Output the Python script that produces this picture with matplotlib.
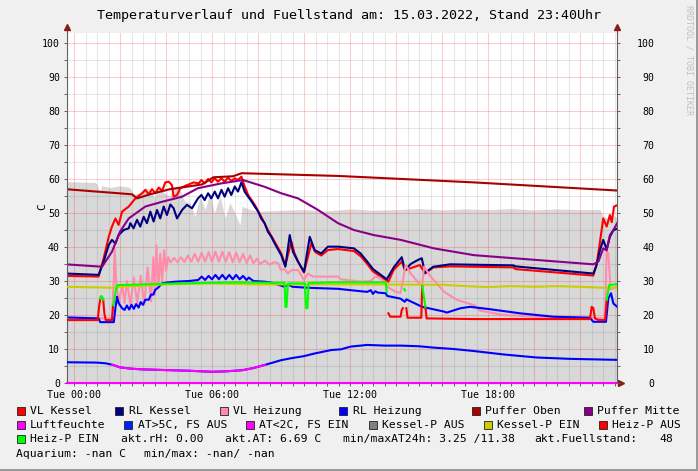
import numpy as np
import matplotlib
matplotlib.use('Agg')
import matplotlib.pyplot as plt
from matplotlib.patches import Rectangle

plt.rcParams['font.family'] = ['DejaVu Sans Mono']

nan = np.nan

# Zeit in Stunden ab Tue 00:00, Werte in Grad C bzw. Fuellstand
t_fuell = [-0.35, 0.91, 1.0, 1.13, 1.2, 1.57, 2.0, 2.43, 2.6, 2.87, 3.1, 3.3, 3.5, 3.74, 3.9, 4.17,
           4.3, 4.6, 4.8, 5.04, 5.26, 5.48, 5.7, 5.91, 6.1, 6.35, 6.57, 6.78, 7.0, 7.22, 7.3, 7.65,
           8.09, 9.0, 10.0, 11.0, 12.0, 13.0, 14.0, 15.0, 16.0, 17.0, 18.0, 19.0, 20.0, 21.0, 22.0,
           22.87, 23.0, 23.2, 23.4, 23.65]
v_fuell = [59.2, 59.0, 58.5, 56.0, 58.0, 57.5, 58.0, 57.5, 55.5, 56.0, 57.5, 57.0, 54.5, 58.0, 56.0, 55.0,
           57.5, 57.0, 53.5, 53.0, 49.0, 55.0, 51.0, 56.0, 50.0, 55.0, 48.5, 53.0, 50.0, 46.5, 52.0, 51.0,
           50.5, 50.8, 51.0, 50.6, 51.2, 50.8, 51.0, 51.3, 50.9, 51.2, 51.0, 51.3, 50.9, 51.2, 51.0,
           51.0, 49.0, 48.5, 49.5, 48.5]

t_vlk = [-0.35, 1.07, 1.29, 1.51, 1.65, 1.80, 1.94, 2.09, 2.38, 2.67, 2.96,
         3.10, 3.25, 3.39, 3.54, 3.68, 3.83, 3.97, 4.12, 4.26, 4.33, 4.48, 4.62, 4.84, 4.99, 5.20, 5.42,
         5.54, 5.68, 5.83, 5.97, 6.12, 6.26, 6.41, 6.55, 6.70, 6.84, 6.99, 7.13, 7.28,
         7.42, 7.57, 7.86, 8.14, 8.43, 8.72, 9.01, 9.19, 9.45, 9.59, 9.74, 10.0, 10.32, 10.49, 10.75, 11.04, 11.48,
         12.17, 12.46, 12.75, 13.0, 13.67, 13.9, 14.25, 14.39, 15.04, 15.26, 15.62, 16.35, 19.10, 19.2,
         22.58, 22.73, 22.87, 23.01, 23.16, 23.30, 23.38, 23.48, 23.65]
v_vlk = [31.5, 31.3, 36.7, 43.0, 46.0, 48.4, 46.5, 50.4, 51.9, 54.3, 55.8,
         56.8, 55.5, 57.0, 55.8, 57.5, 56.5, 59.0, 59.2, 58.2, 54.8, 55.3, 57.3, 58.0, 58.4, 59.0, 58.7,
         59.7, 58.7, 60.0, 59.0, 60.2, 59.2, 60.2, 59.2, 60.4, 59.4, 60.2, 59.7, 60.7,
         57.8, 55.3, 52.4, 48.9, 45.0, 41.6, 38.1, 34.7, 41.6, 38.1, 35.7, 32.5, 41.1, 38.5, 37.5, 39.1, 39.4,
         38.8, 37.3, 35.0, 32.8, 29.8, 33.3, 35.7, 33.2, 34.7, 32.2, 34.0, 34.3, 34.0, 33.5,
         31.6, 35.2, 41.6, 48.4, 46.0, 49.4, 47.3, 51.9, 52.4]

t_rlk = [-0.35, 1.07, 1.29, 1.51, 1.65, 1.80, 1.94, 2.16, 2.38,
         2.45, 2.59, 2.74, 2.88, 3.03, 3.17, 3.32, 3.46, 3.61, 3.75, 3.90, 4.04, 4.19, 4.33, 4.48, 4.70, 4.91, 5.13,
         5.39, 5.54, 5.68, 5.83, 5.97, 6.12, 6.26, 6.41, 6.55, 6.70, 6.84, 6.99, 7.13, 7.28, 7.42, 7.57, 7.71,
         7.86, 8.0, 8.14, 8.29, 8.43, 8.58, 8.72, 9.01, 9.19, 9.38, 9.52, 9.74, 10.0, 10.25, 10.46, 10.75, 11.04, 11.48,
         12.17, 12.46, 12.75, 13.0, 13.6, 13.9, 14.25, 14.39, 14.64, 14.9, 15.12, 15.26, 15.62, 16.35, 19.10, 19.2,
         22.58, 22.70, 22.87, 23.01, 23.16, 23.30, 23.45, 23.65]
v_rlk = [32.2, 31.8, 35.7, 40.6, 42.1, 41.0, 43.5, 45.0, 45.5,
         47.0, 45.5, 48.0, 46.0, 48.9, 47.0, 50.4, 47.5, 50.9, 48.4, 51.9, 49.4, 52.5, 51.4, 48.4, 50.9, 52.4, 51.4,
         54.3, 55.3, 53.8, 55.8, 54.3, 56.3, 54.3, 56.8, 54.8, 57.3, 55.3, 57.8, 56.3, 59.0, 56.3, 54.8, 53.5,
         51.9, 50.5, 48.4, 47.0, 44.5, 43.0, 41.1, 37.6, 34.2, 43.5, 38.6, 35.7, 32.7, 43.0, 39.1, 38.1, 40.1, 40.1,
         39.6, 38.1, 35.7, 33.5, 30.5, 34.0, 37.0, 33.2, 35.0, 36.0, 36.7, 32.4, 34.2, 34.9, 34.6, 34.3,
         32.2, 34.2, 39.1, 42.1, 39.3, 43.0, 44.9, 45.5]

t_vlh = [-0.35, 1.65, 1.73, 1.77, 1.83, 1.96, 2.0, 2.1, 2.2, 2.3, 2.45, 2.6, 2.75, 2.9, 3.05, 3.2, 3.35, 3.45,
         3.52, 3.58, 3.67, 3.75, 3.83, 3.92, 4.0, 4.1,
         4.2, 4.35, 4.5, 4.65, 4.8, 4.95, 5.1, 5.25, 5.4, 5.55, 5.7, 5.85, 6.0, 6.15, 6.3, 6.45, 6.6, 6.75,
         6.9, 7.05, 7.2, 7.35, 7.5, 7.65, 7.8, 7.95, 8.1, 8.3, 8.5, 8.7, 8.87,
         9.0, 9.16, 9.3, 9.45, 9.74, 10.0, 10.17, 10.39, 11.48, 11.6, 12.5, 12.9, 13.1, 13.33, 13.62, 13.99,
         14.2, 14.42, 14.64, 15.0, 15.14, 15.22, 15.51, 16.09, 16.67, 17.39, 17.65, 18.67, 20.12, 22.43,
         23.09, 23.16, 23.23, 23.33, 23.65]
v_vlh = [19.0, 19.0, 30.0, 39.6, 30.0, 23.4, 25.5, 29.0, 23.5, 30.0, 23.0, 31.0, 23.5, 31.5, 23.0, 34.0, 24.0, 37.0,
         26.0, 40.5, 28.0, 38.0, 30.0, 39.0, 33.0, 37.0,
         35.5, 36.8, 35.5, 37.0, 35.6, 37.5, 35.7, 38.0, 35.7, 38.3, 35.7, 38.5, 35.7, 38.6, 35.7, 38.6, 35.7, 38.5,
         35.5, 38.3, 35.5, 38.0, 35.3, 37.5, 35.2, 36.5, 35.0, 36.0, 34.8, 35.5, 35.3,
         33.2, 33.5, 32.2, 33.2, 33.2, 30.3, 32.2, 31.3, 31.3, 30.5, 29.8, 30.0, 31.3, 30.8, 28.3, 26.8,
         26.5, 34.7, 32.2, 29.3, 29.0, 34.2, 31.3, 26.8, 24.4, 22.9, 21.3, 20.0, 19.5, 19.2,
         19.0, 39.0, 38.0, 27.5, 28.5]

t_rlh = [-0.35, 1.07, 1.14, 1.73, 1.80, 1.87, 1.94, 2.09, 2.2, 2.3, 2.4, 2.5, 2.6, 2.7, 2.81, 2.9, 3.0, 3.1,
         3.25, 3.35, 3.45, 3.53, 3.65, 3.83, 4.0, 4.4, 5.0,
         5.4, 5.55, 5.7, 5.85, 6.0, 6.15, 6.3, 6.45, 6.6, 6.75, 6.9, 7.05, 7.2, 7.35, 7.5, 7.6, 7.8, 8.29, 8.6,
         9.16, 9.3, 9.5, 10.2, 11.48, 12.17, 12.75, 12.9, 13.0, 13.1, 13.2, 13.55, 13.62, 14.2, 14.38, 14.45,
         15.14, 16.09, 16.2, 16.81, 17.22, 18.09, 19.39, 20.84, 22.43, 22.58, 23.13, 23.23, 23.35, 23.45, 23.65]
v_rlh = [19.3, 19.0, 17.9, 17.9, 22.0, 25.4, 23.5, 22.0, 21.5, 22.8, 21.6, 23.0, 21.8, 23.2, 22.2, 23.8, 23.0, 24.5,
         24.5, 26.0, 26.0, 27.4, 28.0, 29.3, 29.5, 29.8, 30.0,
         30.3, 31.3, 30.3, 31.5, 30.5, 31.8, 30.5, 31.8, 30.5, 31.8, 30.5, 31.8, 30.5, 31.5, 30.3, 31.0, 30.0, 29.8, 29.5,
         28.3, 29.0, 28.3, 28.0, 27.7, 27.2, 26.8, 27.3, 26.2, 27.0, 26.6, 26.4, 25.6, 24.8, 23.9, 24.6,
         22.4, 21.0, 20.7, 22.0, 22.4, 21.7, 20.5, 19.5, 19.2, 18.0, 18.0, 24.9, 26.4, 23.4, 22.2]

t_po = [-0.35, 2.52, 2.74, 3.3, 4.17, 5.57, 6.06, 6.91, 7.29, 11.48, 17.39, 23.65]
v_po = [57.0, 55.5, 54.3, 55.5, 57.0, 58.4, 60.5, 60.8, 61.7, 60.9, 59.0, 56.6]

t_pm = [-0.35, 1.22, 1.65, 2.0, 2.38, 3.1, 3.83, 4.70, 5.39, 6.40, 7.35, 8.29, 9.01, 9.74, 10.61, 11.48,
        12.17, 13.04, 14.2, 15.65, 17.39, 22.58, 22.80, 23.01, 23.16, 23.30, 23.45, 23.65]
v_pm = [34.9, 34.2, 38.6, 44.5, 48.4, 51.9, 53.3, 54.8, 57.3, 58.7, 59.7, 57.7, 55.8, 54.3, 50.9, 47.0,
        45.0, 43.5, 42.1, 39.6, 37.6, 34.9, 35.7, 39.6, 39.0, 43.5, 45.0, 47.4]

t_lf = [-7 / 23, 543 / 23]
v_lf = [0.0, 0.0]

t_at = [-0.35, 1.0, 1.36, 1.65, 2.0, 2.5, 3.0, 4.0, 5.0, 6.0, 6.5, 7.0, 7.35, 7.8, 8.29, 9.0, 9.45, 10.0,
        10.47, 11.19, 11.6, 12.03, 12.75, 13.5, 14.2, 15.0, 15.65, 16.5, 17.39, 18.67, 20.12, 21.57, 23.65]
v_at = [6.1, 6.0, 5.8, 5.4, 4.6, 4.2, 4.0, 3.8, 3.6, 3.3, 3.4, 3.6, 3.8, 4.4, 5.3, 6.7, 7.3, 7.9,
        8.7, 9.7, 9.9, 10.7, 11.2, 11.0, 11.0, 10.8, 10.4, 10.0, 9.4, 8.4, 7.5, 7.1, 6.8]

t_kpe = [-0.35, 1.80, 2.0, 4.0, 6.0, 8.0, 10.0, 13.0, 16.0, 17.0, 18.0, 19.0, 20.0, 21.0, 22.0, 23.0, 23.65]
v_kpe = [28.3, 28.0, 28.3, 29.0, 29.3, 29.0, 29.0, 29.0, 28.9, 28.5, 28.2, 28.5, 28.3, 28.5, 28.3, 28.0, 28.0]

t_hpa = [-0.35, 1.03, 1.10, 1.15, nan, 1.27, 1.32, 1.38, 1.65, 1.70, nan, 13.67, 13.75, 14.20, 14.25, 14.30,
         nan, 14.45, 14.50, 15.10, 15.14, nan, 15.28, 15.33, 17.4, 22.43, 22.51, 22.58, 22.65, 22.80, 23.09, 23.16]
v_hpa = [18.5, 18.5, 23.0, 24.9, nan, 24.5, 20.5, 18.5, 18.5, 22.9, nan, 20.5, 19.5, 19.5, 21.5, 22.0,
         nan, 22.0, 19.2, 19.2, 28.5, nan, 22.4, 19.0, 18.8, 18.8, 22.4, 22.0, 19.0, 18.5, 18.5, 24.4]

t_hpe = [1.14, 1.18, 1.24, 1.28, nan, 1.70, 1.73, 1.80, 1.87, 2.5, 4.0, 5.5, 7.0, 8.5, 9.16, 9.19, 9.24, 9.30,
         10.04, 10.09, 10.15, 10.20, 11.3, 13.55, 13.60, nan, 14.36, 14.40, nan, 15.14, 15.20, 15.28, nan,
         23.16, 23.27, 23.65]
v_hpe = [24.9, 25.6, 25.2, 24.5, nan, 22.9, 23.4, 26.5, 28.8, 28.9, 29.2, 29.4, 29.6, 29.5, 29.5, 22.4, 22.4, 29.3,
         29.3, 22.0, 22.0, 29.4, 29.6, 29.6, 26.8, nan, 27.6, 27.2, nan, 28.5, 26.0, 22.4, nan,
         24.4, 28.8, 29.1]

x_labels = ['Tue 00:00', '', '', 'Tue 06:00', '', '', 'Tue 12:00', '', '', 'Tue 18:00', '', '']
titel = 'Temperaturverlauf und Fuellstand am: 15.03.2022, Stand 23:40Uhr'

W, H = 698, 471


def fx(x):
    return x / W


def fy(y):
    return 1 - y / H


fig = plt.figure(figsize=(W / 100, H / 100), dpi=100, facecolor='#F0F0F0')
ax = fig.add_axes([fx(67), fy(383), 550 / W, 350 / H])
ax.set_facecolor('white')

lw = 1.5
ax.fill_between(t_fuell, 0, v_fuell, color='#D8D8D8', lw=0, zorder=1)
ax.plot(t_vlk, v_vlk, color='#FF0000', lw=lw, zorder=2)
ax.plot(t_rlk, v_rlk, color='#000080', lw=lw, zorder=2.1)
ax.plot(t_vlh, v_vlh, color='#FF8CAA', lw=lw, zorder=2.2)
ax.plot(t_rlh, v_rlh, color='#0000FF', lw=lw, zorder=2.3)
ax.plot(t_po, v_po, color='#AA0000', lw=lw, zorder=2.4)
ax.plot(t_pm, v_pm, color='#880088', lw=lw, zorder=2.5)
ax.plot(t_lf, v_lf, color='#FF00FF', lw=lw, zorder=2.6, clip_on=False)

# Aussentemperatur: blau, unter 5 Grad magenta
at = np.array(v_at)
low = at < 5
low_ext = low | np.roll(low, 1) | np.roll(low, -1)
ax.plot(t_at, v_at, color='#0000FF', lw=lw, zorder=2.7)
ax.plot(t_at, np.where(low_ext, at, np.nan), color='#FF00FF', lw=lw, zorder=2.75)

ax.plot(t_kpe, v_kpe, color='#CCCC00', lw=lw, zorder=2.8)
ax.plot(t_hpa, v_hpa, color='#FF0000', lw=lw, zorder=2.9)
ax.plot(t_hpe, v_hpe, color='#00FF00', lw=lw, zorder=3)

ax.set_xlim(-7 / 23, 543 / 23)
ax.set_ylim(0, 350 / 3.4)

ax.set_xticks(np.arange(0, 24, 2))
ax.set_xticks(np.arange(0, 24, 0.5), minor=True)
ax.set_xticklabels(x_labels)
ax.set_yticks(np.arange(0, 101, 10))
ax.set_yticks(np.arange(5, 101, 10), minor=True)
ax.grid(which='major', color='#FF0000', alpha=0.2, lw=0.75)
ax.grid(which='minor', color='#606060', alpha=0.15, lw=0.75)
ax.set_axisbelow('line')
ax.tick_params(which='both', length=2, width=0.7, color='#606060')
ax.tick_params(axis='x', labelsize=7.2, pad=3)
ax.tick_params(axis='y', labelsize=7.1, pad=3)

for s in ['top', 'right']:
    ax.spines[s].set_visible(False)
for s in ['left', 'bottom']:
    ax.spines[s].set_color('#606060')
    ax.spines[s].set_linewidth(0.8)

ax2 = ax.twinx()
ax2.set_ylim(ax.get_ylim())
ax2.set_yticks(np.arange(0, 101, 10))
ax2.set_yticks(np.arange(5, 101, 10), minor=True)
ax2.tick_params(axis='y', which='both', length=2, width=0.7, color='#606060', labelsize=7.1, pad=25)
for lbl in ax2.get_yticklabels():
    lbl.set_horizontalalignment('right')
for s in ['top', 'left', 'bottom']:
    ax2.spines[s].set_visible(False)
ax2.spines['right'].set_color('#606060')
ax2.spines['right'].set_linewidth(0.8)

# Achsenpfeile wie bei rrdtool
pfeil = '#8B1A1A'
for xa in (0, 1):
    ax.plot([xa, xa], [1, 1 + 5 / 350], color='#606060', lw=0.8, transform=ax.transAxes, clip_on=False)
    ax.plot([xa], [1 + 6 / 350], marker='^', ms=4, color=pfeil, transform=ax.transAxes, clip_on=False)
ax.plot([1, 1 + 3 / 550], [0, 0], color='#606060', lw=0.8, transform=ax.transAxes, clip_on=False)
ax.plot([1 + 4 / 550], [0], marker='>', ms=4, color=pfeil, transform=ax.transAxes, clip_on=False)

fig.text(0.5, fy(16), titel, fontsize=9.6, ha='center', va='center')
fig.text(fx(42), fy(207), 'C', fontsize=8, rotation=90, ha='center', va='center')
fig.text(fx(689), fy(5), 'RRDTOOL / TOBI OETIKER', fontsize=6, rotation=270,
         ha='center', va='top', color='#C0C0C0')

# Legende
legende = [
    ('VL Kessel', '#FF0000', 30, 411), ('RL Kessel', '#000080', 128.7, 411),
    ('VL Heizung', '#FF8CAA', 233.3, 411), ('RL Heizung', '#0000FF', 352.7, 411),
    ('Puffer Oben', '#AA0000', 485, 411), ('Puffer Mitte', '#880088', 597, 411),
    ('Luftfeuchte', '#FF00FF', 30, 425), ('AT>5C, FS AUS', '#0022FF', 137.7, 425),
    ('AT<2C, FS EIN', '#FF00FF', 259.3, 425), ('Kessel-P AUS', '#808080', 382.3, 425),
    ('Kessel-P EIN', '#CCCC00', 497.3, 425), ('Heiz-P AUS', '#FF0000', 612, 425),
    ('Heiz-P EIN', '#00FF00', 30, 439),
]
fs = 8.2
for name, col, tx, ty in legende:
    fig.add_artist(Rectangle((fx(tx - 13.5), fy(ty + 4)), 8 / W, 8 / H, transform=fig.transFigure,
                             facecolor=col, edgecolor='#202020', lw=0.6))
    fig.text(fx(tx), fy(ty), name, fontsize=fs, ha='left', va='center')

infos = [('akt.rH: 0.00', 120.7, 439), ('akt.AT: 6.69 C', 225, 439),
         ('min/maxAT24h: 3.25 /11.38', 342.7, 439), ('akt.Fuellstand:', 534.3, 439),
         ('48', 659, 439), ('Aquarium: -nan C', 16, 454), ('min/max: -nan/ -nan', 144.3, 454)]
for txt, tx, ty in infos:
    fig.text(fx(tx), fy(ty), txt, fontsize=fs, ha='left', va='center')

# Rahmen
fig.add_artist(Rectangle((fx(696), 0), 2 / W, 1, transform=fig.transFigure, color='#9A9A9A', lw=0))
fig.add_artist(Rectangle((0, 0), 1, 2 / H, transform=fig.transFigure, color='#9A9A9A', lw=0))

fig.savefig('out.png', dpi=100, facecolor=fig.get_facecolor())
